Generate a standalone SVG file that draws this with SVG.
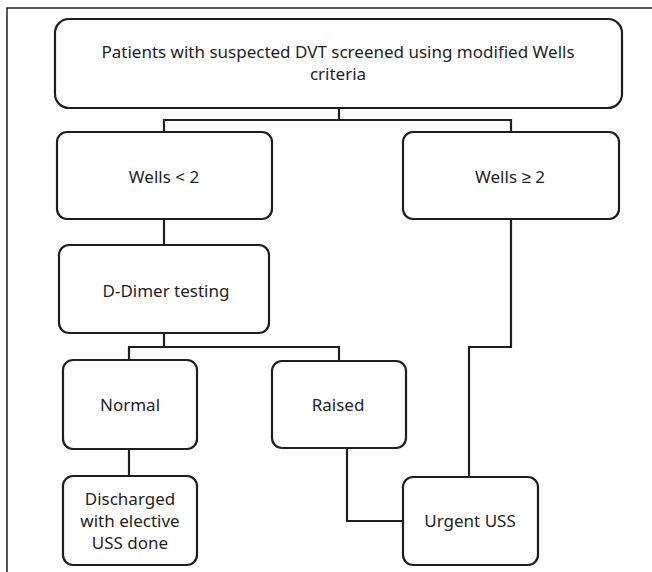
<svg xmlns="http://www.w3.org/2000/svg" width="652" height="572" viewBox="0 0 652 572">
<style>
.box{fill:#fff;stroke:#1e1e1e;stroke-width:2.2}
.wire{fill:none;stroke:#1e1e1e;stroke-width:2.2}
.frame{fill:none;stroke:#1e1e1e;stroke-width:1.5}
text{font-family:"Noto Sans","Liberation Sans",sans-serif;font-size:17px;fill:#1e1e1e;text-anchor:middle}
</style>
<rect x="0" y="0" width="652" height="572" fill="#fff"/>
<path class="frame" d="M7,572 V8 H652"/>
<g id="connectors">
<path class="wire" d="M339,108 V120 M164,132 V120 H511 V132"/>
<path class="wire" d="M164,219 V245"/>
<path class="wire" d="M164,333 V347 M129,360 V347 H339 V361"/>
<path class="wire" d="M129,449 V476"/>
<path class="wire" d="M347,448 V521 H403"/>
<path class="wire" d="M511,219 V347 H469 V477"/>
</g>
<g id="n-top">
<rect class="box" x="55" y="19" width="567" height="89" rx="14"/>
<text x="338" y="58">Patients with suspected DVT screened using modified Wells</text>
<text x="338" y="80">criteria</text>
</g>
<g id="n-wells-lt">
<rect class="box" x="57" y="132" width="215" height="87" rx="10"/>
<text x="164" y="183">Wells &lt; 2</text>
</g>
<g id="n-wells-ge">
<rect class="box" x="403" y="132" width="216" height="87" rx="10"/>
<text x="510" y="183">Wells ≥ 2</text>
</g>
<g id="n-ddimer">
<rect class="box" x="59" y="245" width="210" height="88" rx="10"/>
<text x="166" y="297">D-Dimer testing</text>
</g>
<g id="n-normal">
<rect class="box" x="63" y="360" width="134" height="89" rx="10"/>
<text x="130" y="411">Normal</text>
</g>
<g id="n-raised">
<rect class="box" x="272" y="361" width="134" height="87" rx="10"/>
<text x="338" y="411">Raised</text>
</g>
<g id="n-discharged">
<rect class="box" x="63" y="476" width="134" height="89" rx="10"/>
<text x="130" y="505">Discharged</text>
<text x="130" y="527">with elective</text>
<text x="130" y="549">USS done</text>
</g>
<g id="n-urgent">
<rect class="box" x="403" y="477" width="135" height="88" rx="10"/>
<text x="470" y="527">Urgent USS</text>
</g>
</svg>
